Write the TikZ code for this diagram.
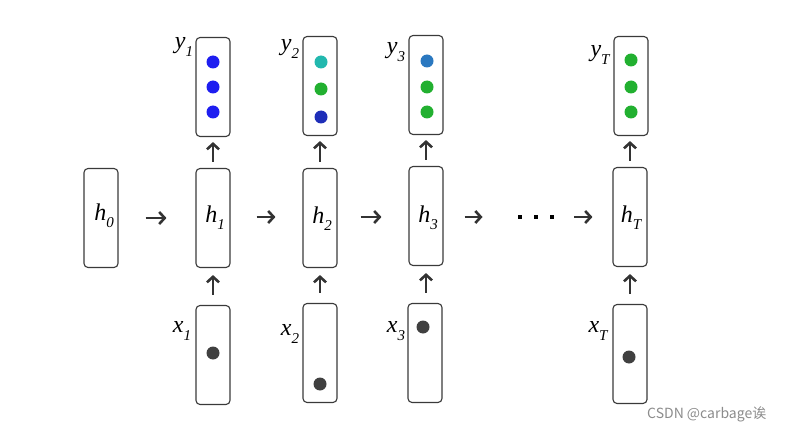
\documentclass[tikz,border=0pt]{standalone}
\usepackage{fontspec}
\setmainfont{Liberation Serif}
\newfontfamily\lblfont{Liberation Serif}
\newfontfamily\cjkfont{Noto Sans CJK SC}
\usetikzlibrary{arrows.meta}
\definecolor{boxline}{HTML}{3A3A3A}
\definecolor{arrcol}{HTML}{333333}
\definecolor{dotgray}{HTML}{404040}
\definecolor{cblue}{HTML}{1E1EF0}
\definecolor{cteal}{HTML}{22B8AE}
\definecolor{cgreen}{HTML}{22B030}
\definecolor{cdblue}{HTML}{1E2EB8}
\definecolor{csteel}{HTML}{2A78C0}
\newcommand{\lbl}[2]{{\lblfont\fontsize{24}{24}\selectfont\itshape #1\raisebox{-0.3em}{\fontsize{15}{15}\selectfont\itshape #2}}}
\begin{document}
\begin{tikzpicture}[x=1pt,y=-1pt,
  cell/.style={draw=boxline,line width=1.1pt,rounded corners=4pt,minimum width=34pt,minimum height=99pt,inner sep=0pt},
  dotn/.style={circle,inner sep=0pt,minimum size=13pt},
  sq/.style={fill=black,inner sep=0pt,minimum size=4.5pt},
  arr/.style={draw=arrcol,line width=2.6pt,-{Straight Barb[length=5.5pt,width=12pt]}},
  lab/.style={inner sep=0pt,anchor=center}]
\useasboundingbox (0,0) rectangle (795,433);
% boxes
\node[cell] (h0) at (101,218) {};
\node[cell] (h1) at (213,218) {};
\node[cell] (h2) at (320,218) {};
\node[cell] (h3) at (426,216) {};
\node[cell] (hT) at (630,217) {};
\node[cell] (y1) at (213,87) {};
\node[cell] (y2) at (320,86) {};
\node[cell] (y3) at (426,85) {};
\node[cell] (yT) at (631,86) {};
\node[cell] (x1) at (213,355) {};
\node[cell] (x2) at (320,353) {};
\node[cell] (x3) at (425,353) {};
\node[cell] (xT) at (630,354) {};
% h labels
\node[lab] (lh0) at (104,216) {\lbl{h}{0}};
\node[lab] (lh1) at (215,218) {\lbl{h}{1}};
\node[lab] (lh2) at (322,219) {\lbl{h}{2}};
\node[lab] (lh3) at (428,218) {\lbl{h}{3}};
\node[lab] (lhT) at (631,218) {\lbl{h}{T}};
% y labels
\node[lab] (ly1) at (184,47) {\lbl{y}{1}};
\node[lab] (ly2) at (290,49) {\lbl{y}{2}};
\node[lab] (ly3) at (396,52) {\lbl{y}{3}};
\node[lab] (lyT) at (600,55) {\lbl{y}{T}};
% x labels
\node[lab] (lx1) at (182,331) {\lbl{x}{1}};
\node[lab] (lx2) at (290,334) {\lbl{x}{2}};
\node[lab] (lx3) at (396,331) {\lbl{x}{3}};
\node[lab] (lxT) at (598,331) {\lbl{x}{T}};
% output dots
\node[dotn,fill=cblue] (y1a) at (213,62) {};
\node[dotn,fill=cblue] (y1b) at (213,87) {};
\node[dotn,fill=cblue] (y1c) at (213,112) {};
\node[dotn,fill=cteal] (y2a) at (321,62) {};
\node[dotn,fill=cgreen] (y2b) at (321,89) {};
\node[dotn,fill=cdblue] (y2c) at (321,117) {};
\node[dotn,fill=csteel] (y3a) at (427,61) {};
\node[dotn,fill=cgreen] (y3b) at (427,87) {};
\node[dotn,fill=cgreen] (y3c) at (427,112) {};
\node[dotn,fill=cgreen] (yTa) at (631,60) {};
\node[dotn,fill=cgreen] (yTb) at (631,87) {};
\node[dotn,fill=cgreen] (yTc) at (631,112) {};
% input dots
\node[dotn,fill=dotgray] (x1d) at (213,353) {};
\node[dotn,fill=dotgray] (x2d) at (320,384) {};
\node[dotn,fill=dotgray] (x3d) at (423,327) {};
\node[dotn,fill=dotgray] (xTd) at (629,357) {};
% ellipsis
\node[sq] (d1) at (520,217) {};
\node[sq] (d2) at (536,217) {};
\node[sq] (d3) at (552,217) {};
% horizontal arrows
\draw[arr] ([xshift=27pt]h0.east) -- ([xshift=-29pt]h1.west);
\draw[arr] ([xshift=26pt]h1.east |- 0,217) -- ([xshift=-27pt]h2.west |- 0,217);
\draw[arr] ([xshift=23pt]h2.east |- 0,217) -- ([xshift=-27pt]h3.west |- 0,217);
\draw[arr] ([xshift=21pt]h3.east |- 0,217) -- ([xshift=-35pt]d1.west);
\draw[arr] ([xshift=20pt]d3.east) -- ([xshift=-20pt]hT.west |- 0,217);
% vertical arrows
\foreach \c in {1,2,3,T}{
  \draw[arr] ([yshift=10pt]x\c.north -| h\c.south) -- ([yshift=-7pt]h\c.south);
  \draw[arr] ([yshift=6pt]h\c.north) -- ([yshift=-5pt]y\c.south -| h\c.north);
}
% watermark
\node[anchor=west,inner sep=0pt,text=black!45] (wm) at (647,414) {\cjkfont\fontsize{14}{14}\selectfont CSDN @carbage诶};
\end{tikzpicture}
\end{document}
